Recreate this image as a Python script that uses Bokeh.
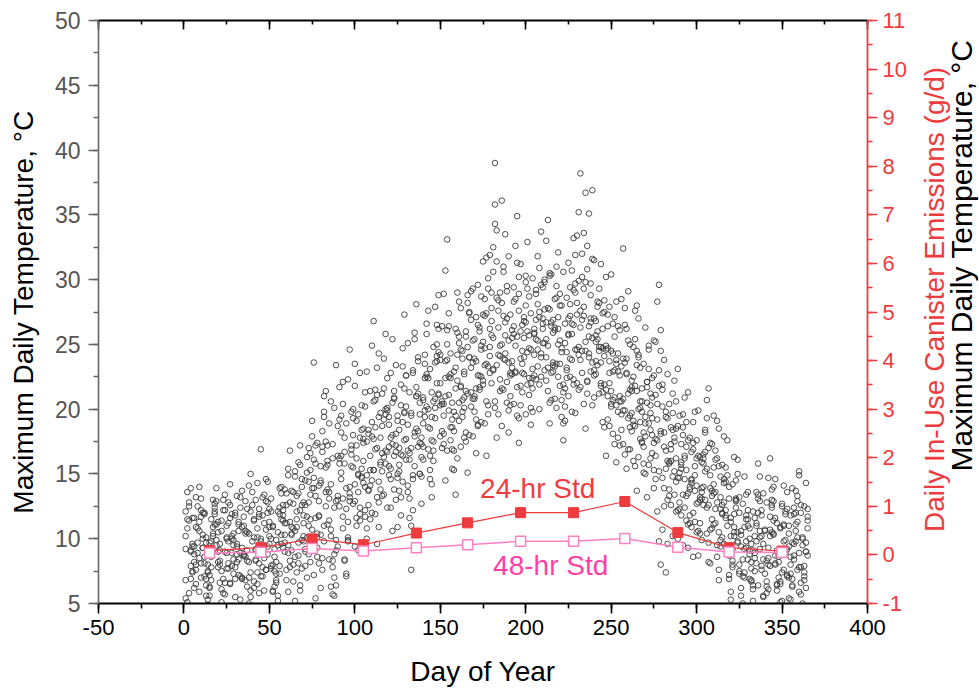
import math
from bokeh.plotting import figure
from bokeh.layouts import row, column
from bokeh.models import Range1d, LinearAxis, Label, SingleIntervalTicker, CustomJSTickFormatter
from bokeh.embed import file_html
from bokeh.resources import INLINE

FONT = "Liberation Sans"

# ---- Daily maximum temperature (deg C), one string per month, five years ----
YEAR_1 = [
    "10.2 11.5 12.8 9.1 7.4 6.2 8.0 9.7 11.3 13.1 12.0 8.6 6.9 5.3 7.2 9.8 10.9 12.4 11.1 9.0 8.3 10.6 12.2 13.4 10.1 7.7 6.5 8.9 10.4 11.8 9.6",
    "8.4 7.1 9.3 11.7 12.9 10.5 8.2 6.0 4.8 6.7 9.1 10.8 12.3 16.9 13.2 9.4 7.6 8.8 10.9 12.1 11.0 9.2 7.3 5.6 7.9 10.3 12.6 13.8",
    "11.2 9.5 7.8 10.4 13.6 15.2 12.1 8.7 6.4 9.9 12.8 14.5 16.3 11.0 8.2 10.7 13.9 15.8 17.4 14.1 10.3 7.6 9.8 12.5 15.7 18.9 20.6 16.2 12.4 9.1 13.3",
    "15.8 18.2 20.4 16.7 12.3 10.1 13.5 16.9 19.3 21.8 17.2 13.6 11.4 14.8 17.7 20.2 22.9 18.4 14.1 12.0 15.3 18.6 21.1 24.3 19.7 15.2 13.4 16.8 19.9 17.1",
    "14.6 17.3 20.8 23.4 19.1 15.7 13.2 16.4 19.8 22.6 25.1 21.3 17.0 14.9 18.2 21.7 24.0 20.5 16.3 18.9 22.4 25.8 27.6 23.1 19.4 16.8 20.1 23.7 26.2 22.0 18.3",
    "20.4 23.7 26.1 22.5 18.6 16.9 19.8 23.2 25.9 28.3 24.6 20.7 17.8 21.4 24.8 27.5 29.1 25.3 21.0 19.2 22.6 26.0 28.7 31.4 27.2 23.5 20.3 24.1 27.8 30.6",
    "39.0 33.8 28.4 24.1 21.6 23.9 26.7 29.5 31.8 27.3 23.2 20.4 22.8 25.6 28.9 31.2 26.5 22.7 19.6 21.9 24.7 27.4 30.1 25.8 22.3 24.6 27.1 29.6 26.2 23.0 25.4",
    "27.8 30.3 26.4 22.9 20.8 23.5 26.2 28.9 24.7 21.3 19.1 22.4 25.8 28.1 30.7 33.2 29.0 24.6 21.5 23.8 26.9 29.3 25.2 22.1 24.3 27.0 36.9 31.5 26.8 23.4 21.2",
    "23.6 26.2 28.4 24.9 21.0 18.7 21.4 24.3 27.1 23.5 19.8 17.2 20.6 23.9 26.5 22.8 19.3 16.9 19.7 22.5 25.4 28.0 24.2 20.1 17.5 15.8 18.9 21.7 24.6 20.3",
    "22.4 25.3 21.1 17.6 15.2 18.3 21.5 23.8 19.4 16.0 13.8 16.9 19.7 22.2 18.5 14.7 12.3 15.4 18.6 20.9 17.1 13.5 11.2 14.3 17.4 19.8 16.2 12.8 10.4 13.6 16.5",
    "18.2 15.4 12.6 14.9 17.3 19.5 16.1 12.8 10.5 13.2 15.7 17.9 14.4 11.0 8.7 11.6 14.2 16.3 12.9 9.8 7.5 10.3 12.7 14.8 11.5 8.4 6.9 9.6 12.1 10.2",
    "8.1 6.4 9.2 11.8 13.5 10.7 8.3 6.1 7.9 10.5 12.9 14.6 11.2 8.8 6.7 5.2 7.6 9.9 12.3 10.4 8.0 6.3 8.7 11.1 13.3 15.2 12.0 9.5 7.4 9.0 11.4",
]
YEAR_2 = [
    "6.8 5.1 4.3 6.9 9.4 11.6 13.2 10.8 8.5 7.0 9.3 11.9 10.1 8.0 6.2 7.8 10.4 12.7 13.9 11.3 9.1 7.5 5.8 6.6 8.9 11.2 12.6 10.0 7.3 5.5 8.2",
    "10.6 12.4 13.7 11.0 8.6 6.3 5.0 7.4 9.8 11.5 13.0 14.3 11.7 9.0 7.1 8.5 10.7 12.8 10.2 7.9 6.0 4.6 6.8 9.5 11.9 13.5 12.2 9.7",
    "7.6 5.9 8.3 10.9 12.7 14.8 11.5 8.1 6.0 7.7 10.2 12.6 15.1 17.0 13.4 9.6 7.2 5.4 8.6 11.8 14.3 16.7 19.4 15.5 11.1 8.4 6.3 5.7 8.8 12.9 16.4",
    "19.2 14.6 10.8 8.3 7.1 9.9 13.2 16.5 12.7 9.4 11.6 14.9 17.8 20.3 16.0 12.2 10.0 13.7 16.4 19.0 15.3 11.9 9.6 12.8 15.9 18.7 21.6 25.8 20.1 15.6",
    "12.4 10.6 13.8 16.7 19.5 15.2 11.8 14.4 17.6 20.2 16.8 13.1 11.0 14.6 17.9 21.0 18.3 15.0 12.7 16.1 19.4 22.7 20.0 16.4 14.2 17.5 20.8 24.1 21.2 17.9 20.6",
    "17.3 14.5 16.8 19.9 22.4 18.6 15.3 13.4 16.2 19.1 21.7 24.5 20.9 17.5 15.1 18.0 21.3 23.6 19.8 16.6 18.7 21.5 24.9 22.2 18.9 16.4 19.6 22.8 25.7 23.0",
    "20.1 17.8 19.6 22.3 25.0 27.2 23.8 20.5 18.2 21.0 23.7 26.4 22.9 19.5 17.4 20.3 22.8 25.5 28.0 24.4 21.1 18.8 21.6 24.2 26.9 23.3 20.0 22.5 25.1 27.7 24.0",
    "21.4 18.9 20.7 23.4 26.1 28.6 25.0 21.8 19.4 17.6 20.2 23.0 25.7 22.5 19.8 21.9 24.6 27.3 29.9 26.3 22.8 20.4 18.5 21.2 24.0 26.7 23.6 20.9 22.7 25.4 28.2",
    "24.8 21.3 18.6 16.4 19.2 22.0 24.5 20.7 17.3 15.9 17.8 20.6 23.3 19.9 16.5 15.4 16.9 19.5 22.2 18.8 15.6 13.7 16.3 19.0 21.6 18.2 15.0 13.2 15.7 18.4",
    "20.9 17.4 14.6 12.1 9.8 8.0 10.7 13.9 16.8 19.3 15.9 12.6 10.2 13.4 16.2 18.7 15.1 11.8 9.5 12.4 15.3 17.6 14.0 10.9 8.6 11.3 14.1 16.4 13.0 9.9 12.6",
    "15.2 12.4 9.7 8.1 10.8 13.5 11.2 8.6 6.8 9.4 12.0 14.3 11.6 8.9 7.2 5.9 8.3 10.9 13.1 10.5 8.0 6.2 5.0 7.4 9.8 12.2 10.0 7.7 6.1 8.5",
    "11.0 13.4 10.6 7.9 5.6 4.4 6.7 9.3 11.7 13.8 11.4 8.7 6.5 8.2 10.8 12.5 14.1 11.9 9.2 7.0 5.3 6.9 9.6 12.0 10.1 7.8 5.7 4.8 7.1 9.7 12.3",
]
YEAR_3 = [
    "12.1 13.6 11.4 9.0 7.5 8.8 10.9 12.5 14.0 11.7 9.3 7.1 5.6 4.9 6.3 8.6 10.2 11.9 9.5 7.8 9.6 11.4 13.0 12.2 10.0 8.1 6.6 7.9 9.9 12.0 13.3",
    "11.1 8.9 7.0 8.7 10.6 12.3 14.1 15.0 12.6 10.1 8.3 6.5 8.1 10.0 11.8 13.4 14.6 12.0 9.6 7.7 5.9 7.5 9.9 12.1 13.9 11.5 9.3 11.2",
    "13.5 15.4 12.8 10.3 8.0 10.6 13.3 15.9 17.2 14.0 11.2 9.0 11.7 14.4 16.6 19.1 23.6 17.2 10.1 12.9 15.6 18.3 21.0 17.5 13.8 11.4 14.2 17.3 20.1 23.4 18.7",
    "21.7 16.4 13.1 15.8 18.9 22.3 24.6 19.8 15.5 12.9 16.2 19.6 22.8 18.4 14.3 11.7 14.9 18.1 21.4 24.9 26.8 21.5 17.0 14.4 17.8 21.2 23.9 20.0 16.7 19.4",
    "22.8 25.4 20.9 17.2 15.0 18.4 21.9 24.7 27.3 22.6 18.8 16.1 19.5 23.0 25.9 28.1 23.7 19.6 17.3 20.7 24.2 26.6 22.4 18.5 21.3 24.8 27.9 25.0 21.1 23.8 26.4",
    "28.9 30.7 33.1 27.4 24.3 20.5 22.9 26.2 29.0 25.6 21.8 19.4 22.7 26.0 28.8 27.4 23.2 20.8 23.9 27.1 29.6 26.3 22.5 25.2 28.5 31.7 29.3 24.8 22.0 25.5",
    "35.8 31.4 27.6 24.9 28.2 31.0 33.5 29.1 25.3 22.8 26.1 29.4 32.6 34.9 30.2 26.0 23.5 26.8 30.3 32.9 28.7 24.6 22.4 25.9 29.2 31.8 27.5 24.0 26.6 29.8 33.0",
    "34.6 30.5 26.7 23.6 26.3 29.5 32.1 28.0 24.4 21.9 25.1 28.6 31.3 27.2 23.8 26.5 29.7 33.4 35.2 38.2 32.0 27.9 24.5 22.2 25.6 28.8 31.6 27.0 23.7 26.0 29.3",
    "31.2 27.4 24.1 21.5 24.7 27.9 30.4 26.6 23.0 20.3 22.9 26.1 28.5 32.4 27.8 23.9 21.2 18.6 21.7 24.8 27.6 23.4 20.0 17.7 20.6 23.5 26.3 22.1 18.9 16.2",
    "19.3 22.6 25.2 28.3 29.6 24.5 20.2 17.1 19.8 22.7 20.4 17.3 14.8 17.5 20.6 23.1 19.5 15.9 13.4 16.2 19.0 21.3 17.8 14.5 12.0 14.9 17.6 19.9 16.3 13.1 15.8",
    "18.4 20.7 17.0 13.9 11.5 14.2 16.8 19.1 15.6 12.3 10.1 12.8 15.5 17.6 14.0 11.3 9.2 11.9 14.5 16.1 13.2 10.6 8.4 10.9 13.4 11.0 8.8 6.7 9.1 11.6",
    "13.6 15.8 12.9 10.2 8.4 10.6 12.8 14.7 16.2 13.0 10.3 8.1 6.4 8.6 10.9 12.7 11.1 8.9 7.2 9.4 11.8 13.9 12.4 9.8 7.6 5.9 7.8 10.1 12.5 14.3 11.7",
]
YEAR_4 = [
    "5.4 4.2 5.8 7.9 9.6 8.2 6.5 4.7 5.9 8.1 10.3 12.0 9.7 7.4 5.6 6.8 9.0 11.1 12.9 10.5 8.0 6.1 4.5 5.7 7.7 9.8 11.6 10.2 8.4 6.9 8.8",
    "7.2 5.3 6.9 8.8 10.4 9.1 7.0 5.5 4.4 6.2 8.4 10.1 11.9 9.8 7.8 6.0 7.6 9.4 11.3 13.1 10.9 8.6 6.6 5.2 7.3 9.6 11.4 9.0",
    "6.8 8.9 11.3 9.1 6.7 5.2 7.4 9.7 12.2 14.6 11.8 9.2 7.0 8.8 11.5 13.9 16.1 13.3 10.4 8.1 6.2 8.5 11.0 13.6 16.0 13.1 10.2 7.8 5.6 6.4 9.4",
    "12.5 15.1 11.7 8.4 7.3 9.8 12.9 15.6 18.0 14.2 11.0 9.1 11.9 14.7 17.4 14.0 10.8 12.6 15.3 17.9 20.6 16.9 13.2 10.9 13.8 16.6 19.2 15.8 12.4 14.9",
    "17.8 20.5 16.4 13.0 10.9 13.7 16.5 19.0 21.6 17.7 14.1 11.6 7.6 12.2 15.6 18.5 21.2 17.4 14.8 17.1 19.9 22.5 18.6 15.3 13.2 16.0 19.3 22.0 24.4 20.3 17.0",
    "19.5 22.4 25.0 21.1 17.6 15.4 18.3 21.6 24.2 20.5 17.1 19.8 22.9 25.6 28.2 24.0 20.2 17.9 20.8 23.7 26.5 22.6 19.0 21.9 24.7 27.4 30.1 31.9 26.8 23.1",
    "20.6 23.4 26.3 29.0 36.1 30.6 25.7 22.1 19.9 22.6 25.5 28.3 24.9 21.7 19.3 21.8 24.5 27.1 29.8 26.0 22.4 20.1 23.1 26.2 28.9 25.3 21.9 24.3 27.0 30.0 26.7",
    "23.2 20.5 22.8 25.9 28.5 31.0 27.1 23.5 20.7 18.9 21.6 24.4 27.0 29.4 25.8 22.3 19.7 22.0 24.8 27.6 30.2 33.6 36.7 30.8 26.4 22.9 20.3 23.0 25.7 28.3 24.5",
    "21.8 19.0 21.9 24.6 27.3 23.7 20.4 18.1 20.9 23.8 26.4 22.6 19.6 17.3 19.9 22.7 25.3 21.5 18.3 16.0 18.7 21.4 24.0 20.6 17.4 15.1 17.9 20.5 23.1 19.7",
    "16.6 13.9 16.4 19.2 21.8 18.1 14.7 12.5 7.4 9.6 13.3 16.0 18.4 15.2 12.1 10.0 12.8 15.7 18.0 14.6 11.4 9.3 11.8 14.6 16.9 13.7 10.5 8.7 11.2 13.9 16.2",
    "13.0 10.4 8.2 10.7 13.3 15.5 12.3 9.5 7.6 9.9 12.6 14.6 11.8 9.0 6.9 5.3 7.8 10.2 12.4 9.7 7.3 5.6 4.8 7.0 9.3 11.5 9.1 6.8 5.2 7.5",
    "9.8 12.0 10.1 7.6 5.5 4.3 6.3 8.5 10.7 12.6 10.4 8.0 6.0 4.6 6.5 8.8 11.0 9.2 7.1 5.4 7.3 9.7 11.9 13.7 11.3 8.9 6.6 5.0 6.8 9.0 10.8",
]
YEAR_5 = [
    "9.2 10.8 12.5 13.9 11.6 9.4 7.6 8.9 10.6 12.2 10.0 8.1 6.4 7.5 9.7 11.5 13.0 12.1 9.9 8.2 6.6 5.1 6.9 9.0 11.0 12.8 14.2 11.9 9.5 7.8 9.4",
    "11.3 13.2 10.9 8.7 6.8 8.3 10.4 12.1 13.6 11.4 9.2 7.4 5.8 7.1 9.3 11.2 12.9 14.4 12.3 10.0 8.0 6.3 8.2 10.5 12.4 14.0 11.8 10.3",
    "12.6 14.9 16.8 13.7 10.8 8.6 10.9 13.5 15.7 12.6 9.8 7.9 10.1 12.8 15.3 17.9 14.7 11.6 9.3 11.7 14.5 17.1 19.8 21.4 17.2 13.6 10.7 8.3 7.0 9.9 13.0",
    "16.2 19.5 22.1 17.8 13.9 11.3 14.0 17.2 20.0 23.5 19.1 15.0 12.4 15.4 18.5 21.3 17.5 13.8 11.5 14.5 17.7 20.7 23.2 19.4 15.7 13.3 16.3 19.6 22.4 18.8",
    "15.4 18.0 21.4 18.1 14.7 17.0 20.3 23.3 19.7 16.1 13.6 16.6 19.7 22.8 25.4 21.0 17.1 15.0 17.8 20.9 23.5 20.2 16.9 14.6 17.6 20.6 23.6 26.5 28.8 24.2 20.4",
    "18.1 21.0 23.8 26.4 22.7 19.2 16.8 19.5 22.2 25.1 27.8 23.9 20.1 18.2 21.2 24.0 26.9 29.3 25.4 21.6 18.8 21.7 24.6 27.3 23.4 20.6 23.3 26.2 29.0 32.5",
    "34.3 28.6 24.2 21.4 18.7 21.5 24.3 27.0 23.6 20.3 22.7 25.8 28.5 31.3 27.6 23.9 21.3 24.0 26.7 29.3 25.7 22.0 19.8 22.6 25.4 28.1 30.9 33.7 29.4 25.1 22.2",
    "24.9 27.7 30.4 26.9 23.3 20.1 22.5 25.3 28.0 30.6 26.6 23.2 21.0 23.9 26.6 29.2 31.9 28.2 24.2 21.7 24.5 27.2 29.8 32.6 35.1 29.7 25.5 22.6 25.2 27.9 24.8",
    "22.0 24.7 27.5 30.2 26.4 22.8 20.2 22.9 25.6 28.3 24.3 21.0 18.4 20.8 23.6 26.2 29.1 25.0 21.4 19.1 21.8 24.5 27.0 23.2 19.8 17.1 19.4 22.1 24.9 21.2",
    "18.0 15.3 17.7 20.4 23.0 26.1 21.9 18.2 15.4 13.0 15.8 18.6 21.2 17.8 14.4 12.2 14.7 17.3 19.6 16.4 13.3 11.1 13.8 16.7 19.0 15.6 12.7 10.6 13.2 15.9 14.0",
    "16.7 19.3 21.6 17.4 13.7 11.1 13.6 16.2 18.5 14.8 11.9 9.6 12.2 14.9 13.1 10.2 8.0 10.5 13.0 15.0 12.0 9.4 7.1 9.2 11.8 13.6 10.8 8.2 6.4 8.9",
    "11.2 13.1 14.8 12.2 9.6 7.3 5.8 8.0 10.2 12.4 14.0 11.6 9.1 7.0 5.1 7.4 9.8 12.1 13.6 11.0 8.6 6.4 8.4 10.6 12.9 14.9 12.6 10.0 7.9 6.2 8.7",
]

# ---- Daily in-use canister emissions (g/d), monthly ----
STD_DAYS = [15, 45, 75, 105, 136, 166, 197, 228, 258, 289, 319, 350]
STD_24HR = [0.09, 0.15, 0.33, 0.21, 0.45, 0.66, 0.87, 0.87, 1.10, 0.46, 0.15, 0.08]
STD_48HR = [0.04, 0.055, 0.13, 0.08, 0.15, 0.21, 0.28, 0.28, 0.34, 0.16, 0.06, 0.05]

day_of_year = []
max_temp = []
for year in (YEAR_1, YEAR_2, YEAR_3, YEAR_4, YEAR_5):
    vals = [float(v) for month in year for v in month.split()]
    day_of_year += list(range(1, len(vals) + 1))
    max_temp += vals

RED = "#ee3b3e"
PINK_LINE = "#ff80c2"
PINK_TEXT = "#ff3fa6"

MAIN_W, MAIN_H = 910, 650
SIDE_W = 979 - MAIN_W
BOTTOM_H = 690 - MAIN_H

p = figure(width=MAIN_W, height=MAIN_H, output_backend="svg", toolbar_location=None,
           x_range=Range1d(-50, 400), y_range=Range1d(5, 50),
           min_border_left=98, min_border_right=MAIN_W - 867, min_border_top=20,
           min_border_bottom=MAIN_H - 603,
           background_fill_color="white", border_fill_color="white")
p.outline_line_color = None
p.grid.visible = False
p.extra_y_ranges = {"em": Range1d(-1, 11)}

# bottom axis
xa = p.xaxis[0]
xa.ticker = SingleIntervalTicker(interval=50, num_minor_ticks=2)
xa.formatter = CustomJSTickFormatter(code="return tick.toString()")
xa.axis_line_color = "black"
xa.axis_line_width = 1.8
xa.major_tick_line_color = "black"
xa.minor_tick_line_color = "black"
xa.major_tick_line_width = 1.6
xa.minor_tick_line_width = 1.6
xa.major_tick_out = 10
xa.major_tick_in = 0
xa.minor_tick_out = 5
xa.minor_tick_in = 0
xa.major_label_text_font = FONT
xa.major_label_text_font_size = "22px"
xa.major_label_text_color = "black"
xa.major_label_standoff = 6

# left axis
ya = p.yaxis[0]
ya.ticker = SingleIntervalTicker(interval=5, num_minor_ticks=2)
ya.formatter = CustomJSTickFormatter(code="return tick.toString()")
ya.axis_line_color = "#666666"
ya.axis_line_width = 1.6
ya.major_tick_line_color = "#666666"
ya.minor_tick_line_color = "#666666"
ya.major_tick_line_width = 1.4
ya.minor_tick_line_width = 1.4
ya.major_tick_out = 10
ya.major_tick_in = 0
ya.minor_tick_out = 5
ya.minor_tick_in = 0
ya.major_label_text_font = FONT
ya.major_label_text_font_size = "23px"
ya.major_label_text_color = "#555555"
ya.major_label_standoff = 8
ya.axis_label = "Maximum Daily Temperature, \u00b0C"
ya.axis_label_text_font = FONT
ya.axis_label_text_font_size = "28px"
ya.axis_label_text_font_style = "normal"
ya.axis_label_text_color = "black"
ya.axis_label_standoff = 13

# top axis (ticks only)
top = LinearAxis(ticker=SingleIntervalTicker(interval=50, num_minor_ticks=2),
                 formatter=CustomJSTickFormatter(code="return ''"),
                 axis_line_color="black", axis_line_width=1.8,
                 major_tick_line_color="black", minor_tick_line_color="black",
                 major_tick_line_width=1.6, minor_tick_line_width=1.6,
                 major_tick_in=9, major_tick_out=0, minor_tick_in=4, minor_tick_out=0,
                 major_label_standoff=0, major_label_text_font_size="1px")
p.add_layout(top, "above")

# right axis (emissions)
ra = LinearAxis(y_range_name="em", ticker=SingleIntervalTicker(interval=1, num_minor_ticks=2),
                formatter=CustomJSTickFormatter(code="return tick.toString()"),
                axis_line_color=RED, axis_line_width=1.8,
                major_tick_line_color=RED, minor_tick_line_color=RED,
                major_tick_line_width=1.6, minor_tick_line_width=1.6,
                major_tick_out=10, major_tick_in=0, minor_tick_out=5, minor_tick_in=0,
                major_label_text_font=FONT, major_label_text_font_size="22px",
                major_label_text_color=RED, major_label_standoff=5)
p.add_layout(ra, "right")

# scatter of daily maxima
p.scatter(day_of_year, max_temp, marker="circle", size=5.6, fill_alpha=0,
          line_color="#3a3a3a", line_width=0.9)

# 24-hr and 48-hr standard emissions
p.line(STD_DAYS, STD_24HR, y_range_name="em", line_color=RED, line_width=1.2)
p.scatter(STD_DAYS, STD_24HR, y_range_name="em", marker="square", size=10,
          fill_color=RED, line_color=RED, line_width=1)
p.line(STD_DAYS, STD_48HR, y_range_name="em", line_color=PINK_LINE, line_width=1.5)
p.scatter(STD_DAYS, STD_48HR, y_range_name="em", marker="square", size=10,
          fill_color="white", line_color=PINK_LINE, line_width=1.5)

def add_text(fig, text, x, y, color, size="28px", angle=0.0):
    fig.add_layout(Label(x=x, y=y, text=text, text_font=FONT, text_font_size=size,
                         text_color=color, text_align="center", text_baseline="middle",
                         angle=angle))

add_text(p, "24-hr Std", 207.0, 13.88, RED)
add_text(p, "48-hr Std", 214.6, 7.93, PINK_TEXT)

def blank_panel(w, h):
    f = figure(width=w, height=h, output_backend="svg", toolbar_location=None,
               x_range=Range1d(0, w), y_range=Range1d(0, h),
               x_axis_location=None, y_axis_location=None,
               min_border=0, min_border_left=0, min_border_right=0,
               min_border_top=0, min_border_bottom=0,
               background_fill_color="white", border_fill_color="white")
    f.outline_line_color = None
    f.grid.visible = False
    return f

# right-hand titles (pixel coordinates within the side panel)
side = blank_panel(SIDE_W, MAIN_H)
add_text(side, "Daily In-Use Canister Emissions (g/d)", 934 - MAIN_W, MAIN_H - 311, RED,
         angle=math.pi / 2)
add_text(side, "Maximum Daily Temperature, \u00b0C", 961 - MAIN_W, MAIN_H - 262, "black",
         size="30px", angle=math.pi / 2)

# x-axis title
bottom = blank_panel(979, BOTTOM_H)
add_text(bottom, "Day of Year", 482.5, BOTTOM_H - (671 - MAIN_H), "black")

layout = column(row(p, side), bottom)
open("out.html", "w").write(file_html(layout, INLINE))
